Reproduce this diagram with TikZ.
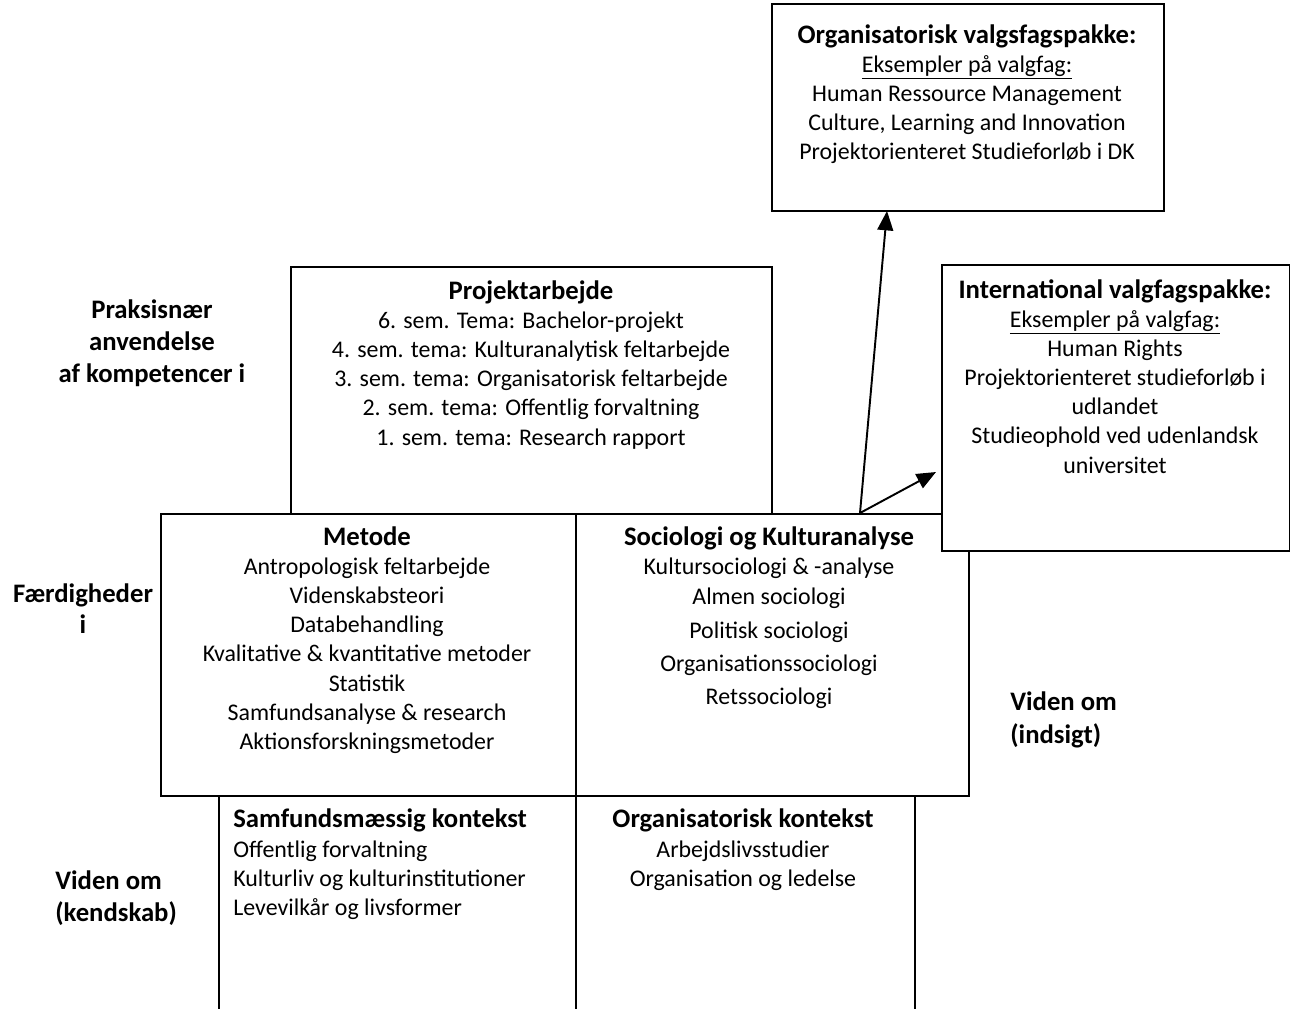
\documentclass[tikz,border=0pt]{standalone}
\usepackage{fontspec}
\setmainfont{Carlito}
\usetikzlibrary{arrows.meta}

\newcommand\fs{\fontsize{13.6}{16}\selectfont}
\newcommand\fb{\fontsize{15.2}{18}\selectfont\bfseries}

\begin{document}
\begin{tikzpicture}[x=0.02cm,y=-0.02cm,
    box/.style={draw,line width=1pt,anchor=north west,inner sep=0pt},
    txt/.style={font=\fs,anchor=base,inner sep=0pt},
    ttl/.style={txt,font=\fb},
    arr/.style={-{Triangle[length=11pt,width=9pt]},line width=1.1pt}]

    % page frame
    \useasboundingbox (0,0) rectangle (1290,1008);

    % boxes
    \node[box,minimum width=7.84cm,minimum height=4.14cm] (orgvalg) at (771,3) {};
    \node[box,minimum width=9.62cm,minimum height=4.94cm] (projekt) at (290,266) {};
    \node[box,minimum width=8.30cm,minimum height=5.64cm] (metode) at (160,513) {};
    \node[box,minimum width=7.86cm,minimum height=5.64cm] (socio) at (575,513) {};
    \node[box,minimum width=7.14cm,minimum height=4.50cm] (samfund) at (218,795) {};
    \node[box,minimum width=6.78cm,minimum height=4.50cm] (orgkon) at (575,795) {};
    \node[box,fill=white,minimum width=6.96cm,minimum height=5.72cm] (intl) at (941,264) {};

    % arrows to the elective packages
    \coordinate (fork) at (860,513);
    \coordinate (orgtip) at (887,211);
    \coordinate (inttip) at (936,472);
    \draw[arr] (fork) -- (orgtip);
    \draw[arr] (fork) -- (inttip);

    % organisatorisk valgfagspakke
    \node[ttl] (orgvalg-t) at (967,43) {Organisatorisk valgsfagspakke:};
    \foreach \t [count=\i] in {\underline{Eksempler på valgfag:},Human Ressource Management,
        {Culture, Learning and Innovation},Projektorienteret Studieforløb i DK}
        \node[txt] (orgvalg-\i) at (967,{72+29.2*(\i-1)}) {\t};

    % projektarbejde
    \node[ttl] (projekt-t) at (531,299) {Projektarbejde};
    \foreach \t [count=\i] in {6. sem. Tema: Bachelor-projekt,4. sem. tema: Kulturanalytisk feltarbejde,
        3. sem. tema: Organisatorisk feltarbejde,2. sem. tema: Offentlig forvaltning,
        1. sem. tema: Research rapport}
        \node[txt] (projekt-\i) at (531,{328+29.3*(\i-1)}) {\t};

    % international valgfagspakke
    \node[ttl] (intl-t) at (1115,298) {International valgfagspakke:};
    \foreach \t [count=\i] in {\underline{Eksempler på valgfag:},Human Rights,
        Projektorienteret studieforløb i,udlandet,Studieophold ved udenlandsk,universitet}
        \node[txt] (intl-\i) at (1115,{327+29.2*(\i-1)}) {\t};

    % metode
    \node[ttl] (metode-t) at (367,545) {Metode};
    \foreach \t [count=\i] in {Antropologisk feltarbejde,Videnskabsteori,Databehandling,
        Kvalitative \& kvantitative metoder,Statistik,Samfundsanalyse \& research,
        Aktionsforskningsmetoder}
        \node[txt] (metode-\i) at (367,{574+29.3*(\i-1)}) {\t};

    % sociologi og kulturanalyse
    \node[ttl] (socio-t) at (769,545) {Sociologi og Kulturanalyse};
    \foreach \t/\y [count=\i] in {Kultursociologi \& -analyse/574,Almen sociologi/604,
        Politisk sociologi/638,Organisationssociologi/671,Retssociologi/704}
        \node[txt] (socio-\i) at (769,\y) {\t};

    % samfundsmaessig kontekst
    \node[ttl,anchor=base west] (samfund-t) at (233,827) {Samfundsmæssig kontekst};
    \foreach \t [count=\i] in {Offentlig forvaltning,Kulturliv og kulturinstitutioner,
        Levevilkår og livsformer}
        \node[txt,anchor=base west] (samfund-\i) at (233,{857+29.2*(\i-1)}) {\t};

    % organisatorisk kontekst
    \node[ttl] (orgkon-t) at (743,827) {Organisatorisk kontekst};
    \foreach \t [count=\i] in {Arbejdslivsstudier,Organisation og ledelse}
        \node[txt] (orgkon-\i) at (743,{857+29.2*(\i-1)}) {\t};

    % level labels
    \foreach \t [count=\i] in {Praksisnær,anvendelse,af kompetencer i}
        \node[ttl] (praksis-\i) at (152,{318+32*(\i-1)}) {\t};
    \node[ttl] (faerd-1) at (83,602) {Færdigheder};
    \node[ttl] (faerd-2) at (83,633) {i};
    \node[ttl,anchor=base west] (indsigt-1) at (1010,710) {Viden om};
    \node[ttl,anchor=base west] (indsigt-2) at (1010,743) {(indsigt)};
    \node[ttl,anchor=base west] (kendskab-1) at (55,889) {Viden om};
    \node[ttl,anchor=base west] (kendskab-2) at (55,921) {(kendskab)};

\end{tikzpicture}
\end{document}
